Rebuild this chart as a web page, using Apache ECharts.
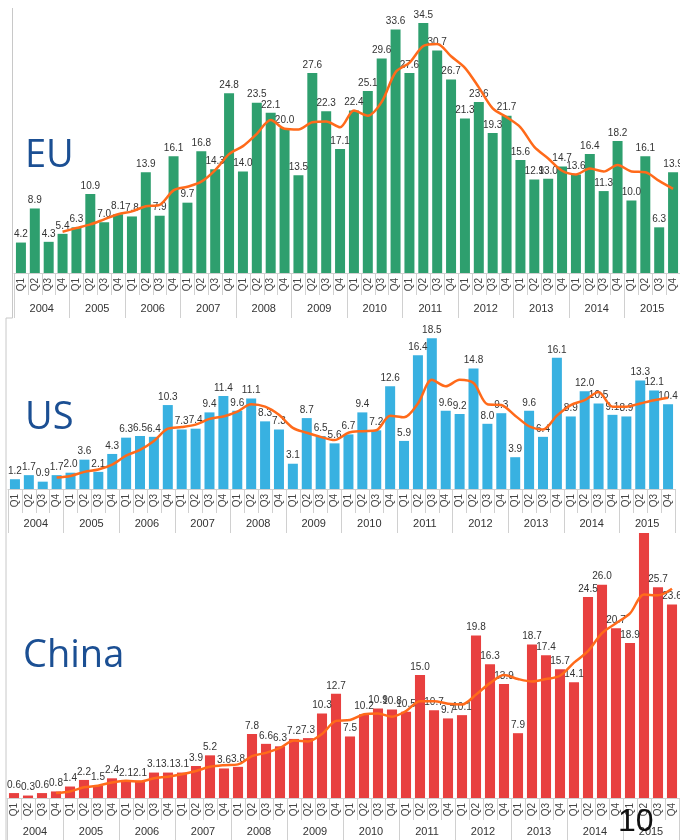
<!DOCTYPE html>
<html><head><meta charset="utf-8">
<script src="https://cdn.jsdelivr.net/npm/echarts@6/dist/echarts.min.js"></script>
<style>html,body{margin:0;padding:0;background:#fff}#c{width:680px;height:840px}</style>
</head><body><div id="c"></div>
<script>
const quarterLabels = ['Q1','Q2','Q3','Q4','Q1','Q2','Q3','Q4','Q1','Q2','Q3','Q4','Q1','Q2','Q3','Q4',
  'Q1','Q2','Q3','Q4','Q1','Q2','Q3','Q4','Q1','Q2','Q3','Q4','Q1','Q2','Q3','Q4',
  'Q1','Q2','Q3','Q4','Q1','Q2','Q3','Q4','Q1','Q2','Q3','Q4','Q1','Q2','Q3','Q4'];
const yearLabels = ['2004','2005','2006','2007','2008','2009','2010','2011','2012','2013','2014','2015'];

const euValues = [4.2,8.9,4.3,5.4, 6.3,10.9,7.0,8.1, 7.8,13.9,7.9,16.1, 9.7,16.8,14.3,24.8,
  14.0,23.5,22.1,20.0, 13.5,27.6,22.3,17.1, 22.4,25.1,29.6,33.6, 27.6,34.5,30.7,26.7,
  21.3,23.6,19.3,21.7, 15.6,12.9,13.0,14.7, 13.6,16.4,11.3,18.2, 10.0,16.1,6.3,13.9];
const euAvg = [null,null,null,5.7, 6.2,6.7,7.4,8.1, 8.5,9.2,9.4,11.4, 11.9,12.6,14.2,16.4,
  17.5,19.2,21.1,19.9, 19.8,20.8,20.9,20.1, 22.4,21.7,23.6,27.7, 29.0,31.3,31.6,29.9,
  28.3,25.6,22.7,21.5, 20.1,17.4,15.8,14.1, 13.6,14.4,14.0,14.9, 14.0,13.9,12.7,11.6];

const usValues = [1.2,1.7,0.9,1.7, 2.0,3.6,2.1,4.3, 6.3,6.5,6.4,10.3, 7.3,7.4,9.4,11.4,
  9.6,11.1,8.3,7.3, 3.1,8.7,6.5,5.6, 6.7,9.4,7.2,12.6, 5.9,16.4,18.5,9.6,
  9.2,14.8,8.0,9.3, 3.9,9.6,6.4,16.1, 8.9,12.0,10.5,9.1, 8.9,13.3,12.1,10.4];
const usAvg = [null,null,null,1.4, 1.6,2.1,2.4,3.0, 4.1,4.8,5.9,7.4, 7.6,7.9,8.6,8.9,
  9.5,10.4,10.1,9.1, 7.5,6.9,6.4,6.0, 6.9,7.1,7.2,9.0, 8.8,10.5,13.4,12.6,
  13.4,13.0,10.4,10.3, 9.0,7.7,7.3,9.0, 10.3,10.9,11.9,10.1, 10.1,10.5,10.9,11.2];

const cnValues = [0.6,0.3,0.6,0.8, 1.4,2.2,1.5,2.4, 2.1,2.1,3.1,3.1, 3.1,3.9,5.2,3.6,
  3.8,7.8,6.6,6.3, 7.2,7.3,10.3,12.7, 7.5,10.2,10.9,10.8, 10.5,15.0,10.7,9.7,
  10.1,19.8,16.3,13.9, 7.9,18.7,17.4,15.7, 14.1,24.5,26.0,20.7, 18.9,33.6,25.7,23.6];
const cnAvg = [null,null,null,0.6, 0.8,1.3,1.5,1.9, 2.1,2.0,2.4,2.6, 2.9,3.3,3.8,4.0,
  4.1,5.1,5.5,6.1, 7.0,6.9,7.8,9.4, 9.5,10.2,10.3,9.9, 10.6,11.8,11.8,11.5,
  11.4,12.6,14.0,15.0, 14.5,14.2,14.5,14.9, 16.5,17.9,20.1,21.3, 22.5,24.8,24.7,25.5];

const panels = [
  {name:'EU', values:euValues, avg:euAvg, color:'#2e9f6e',
   grid:{left:14, right:0, top:12, height:261}, max:36, qTick:22, yTick:45, yMargin:30, tx:25, ty:164},
  {name:'US', values:usValues, avg:usAvg, color:'#38b1e1',
   grid:{left:8, right:5, top:326, height:163}, max:20, qTick:24, yTick:44, yMargin:29, tx:25, ty:426},
  {name:'China', values:cnValues, avg:cnAvg, color:'#e8403f',
   grid:{left:7, right:1, top:533, height:265}, max:32.3, qTick:22, yTick:42, yMargin:28, tx:23, ty:664}
];

const lineCol = '#d0d0d0';
const grids = [], xAxes = [], yAxes = [], series = [], graphics = [];
panels.forEach((p, i) => {
  grids.push(Object.assign({containLabel:false}, p.grid));
  xAxes.push({
    type:'category', gridIndex:i, data:quarterLabels, position:'bottom', boundaryGap:true,
    axisLine:{show:true, lineStyle:{color:lineCol, width:1}},
    axisTick:{show:true, interval:0, length:p.qTick, lineStyle:{color:lineCol}},
    axisLabel:{interval:0, rotate:90, fontSize:10, color:'#444', margin:5, fontFamily:'Liberation Sans'}
  });
  xAxes.push({
    type:'category', gridIndex:i, data:yearLabels, position:'bottom', boundaryGap:true,
    axisLine:{show:false},
    axisTick:{show:true, interval:0, length:p.yTick, lineStyle:{color:lineCol}},
    axisLabel:{interval:0, fontSize:11, color:'#333', margin:p.yMargin, fontFamily:'Liberation Sans'}
  });
  yAxes.push({type:'value', gridIndex:i, min:0, max:p.max, show:false, splitLine:{show:false}});
  const barData = p.values.map(v => (v > p.max ? {value:v, label:{show:false}} : v));
  series.push({
    type:'bar', xAxisIndex:2*i, yAxisIndex:i, data:barData, barCategoryGap:'28%', clip:true,
    itemStyle:{color:p.color},
    label:{show:true, position:'top', distance:3, fontSize:10, color:'#333', fontFamily:'Liberation Sans',
      formatter: d => Number(d.value).toFixed(1)},
    z:2
  });
  series.push({
    type:'line', xAxisIndex:2*i, yAxisIndex:i, data:p.avg, smooth:0.3, symbol:'none',
    lineStyle:{color:'#ff6a1a', width:2.5}, connectNulls:false, z:5
  });
  graphics.push({type:'text', left:p.tx, top:p.ty - 27, style:{text:p.name, font:'38px "Open Sans"', fill:'#1b4f93'}});
});

graphics.push({type:'line', shape:{x1:12.5, y1:8, x2:12.5, y2:318}, style:{stroke:'#c8c8c8', lineWidth:1}});
graphics.push({type:'line', shape:{x1:6, y1:318, x2:12.5, y2:318}, style:{stroke:'#c8c8c8', lineWidth:1}});
graphics.push({type:'line', shape:{x1:6, y1:318, x2:6, y2:840}, style:{stroke:'#c8c8c8', lineWidth:1}});
graphics.push({type:'text', left:618, top:806, style:{text:'10', font:'32px "Liberation Sans"', fill:'#111'}, z:100});

const chart = echarts.init(document.getElementById('c'));
chart.setOption({
  animation:false,
  backgroundColor:'#ffffff',
  grid:grids, xAxis:xAxes, yAxis:yAxes, series:series, graphic:graphics
});
</script></body></html>
